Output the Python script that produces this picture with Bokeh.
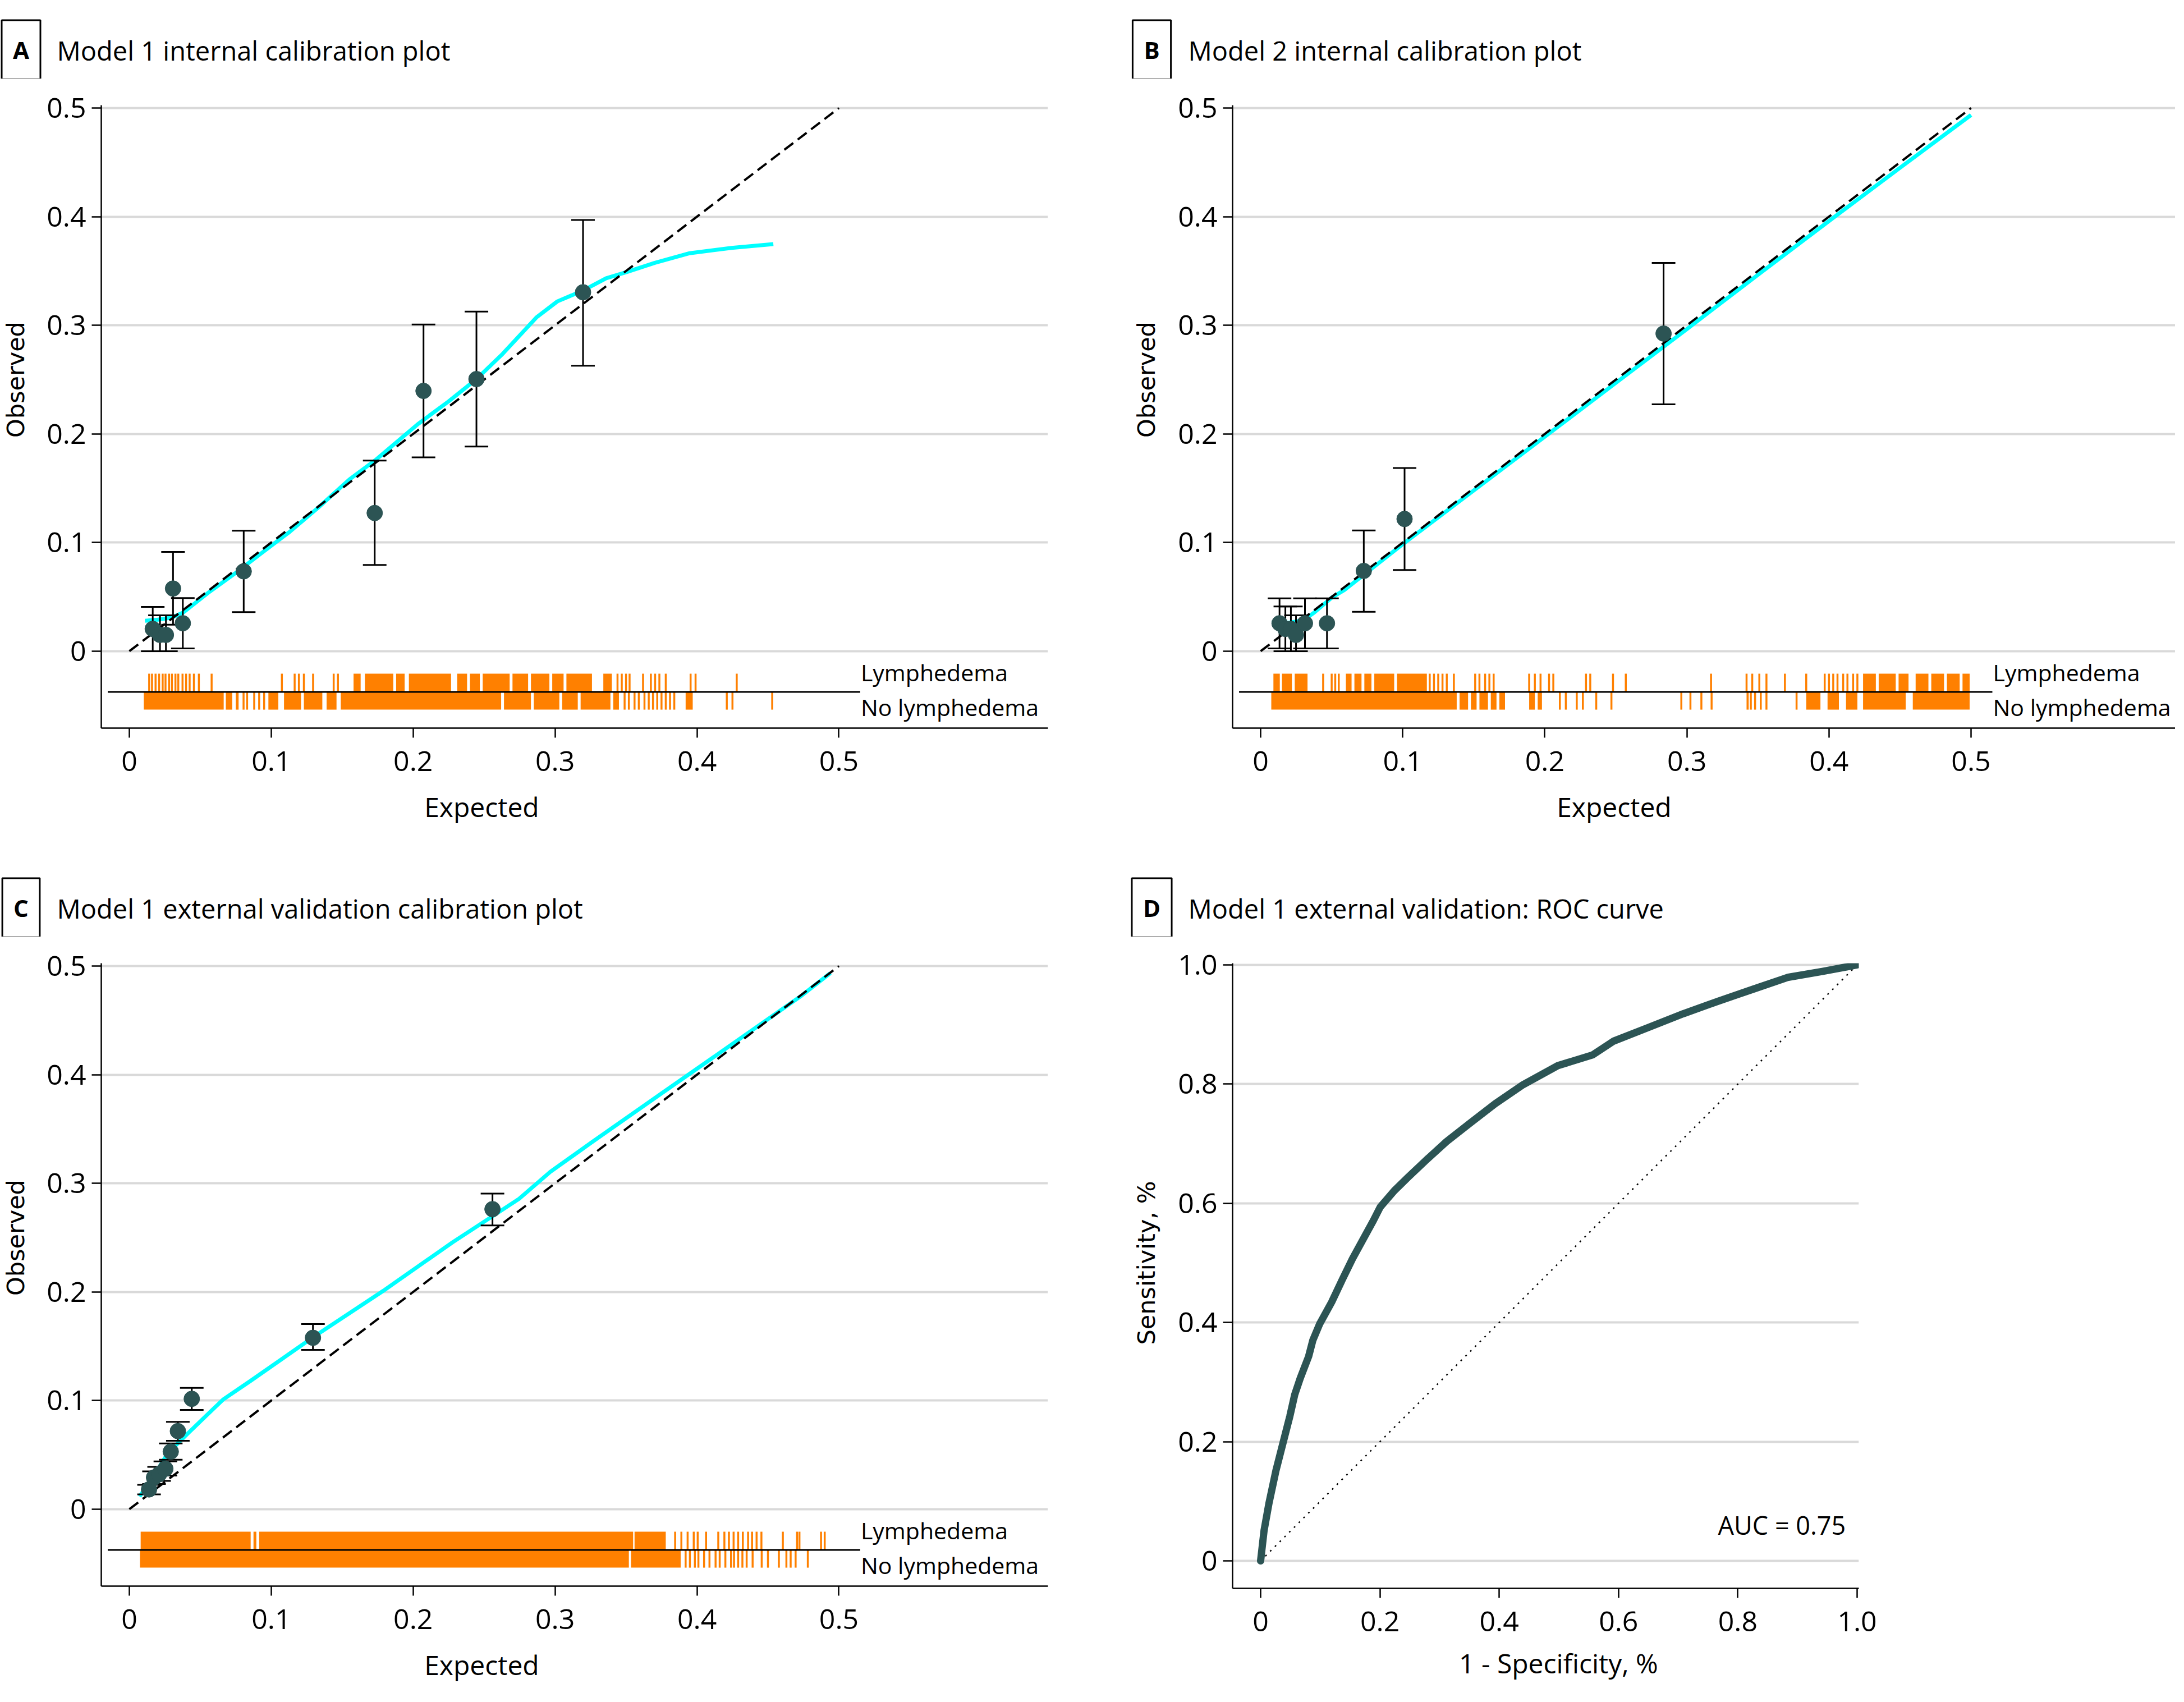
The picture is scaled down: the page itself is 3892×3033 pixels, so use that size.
from bokeh.plotting import figure
from bokeh.models import Range1d, FixedTicker, Label, Plot
from bokeh.layouts import row, column
from bokeh.embed import file_html
from bokeh.resources import INLINE

# ------------------------------------------------------------------ data
calib_ticks = [0, 0.1, 0.2, 0.3, 0.4, 0.5]
calib_tick_labels = ["0", "0.1", "0.2", "0.3", "0.4", "0.5"]
roc_ticks = [0, 0.2, 0.4, 0.6, 0.8, 1.0]
roc_tick_labels = ["0", "0.2", "0.4", "0.6", "0.8", "1.0"]
ref_line = [0, 0.5]
roc_ref = [0, 1.0]

# Panel A - Model 1 internal calibration
a_x = [0.0165, 0.0216, 0.0258, 0.0308, 0.0377, 0.0806, 0.1729, 0.2073, 0.2446, 0.3197]
a_y = [0.0205, 0.0150, 0.0150, 0.0577, 0.0257, 0.0735, 0.1272, 0.2396, 0.2505, 0.3304]
a_lo = [0.0, 0.0, 0.0, 0.0244, 0.0026, 0.0360, 0.0794, 0.1785, 0.1884, 0.2628]
a_hi = [0.0408, 0.0330, 0.0330, 0.0914, 0.0489, 0.1109, 0.1755, 0.3008, 0.3126, 0.3969]
a_curve_x = [0.011, 0.020, 0.030, 0.038, 0.0565, 0.0747, 0.0927, 0.1128, 0.133, 0.155, 0.174,
             0.2033, 0.2250, 0.2446, 0.2623, 0.2868, 0.3016, 0.3197, 0.336, 0.3507, 0.3703,
             0.3949, 0.4244, 0.4538]
a_curve_y = [0.028, 0.029, 0.031, 0.0356, 0.0547, 0.0718, 0.0899, 0.1097, 0.132, 0.158, 0.1765,
             0.2090, 0.2300, 0.2505, 0.2727, 0.3072, 0.3220, 0.3320, 0.3433, 0.3491, 0.3575,
             0.3664, 0.3713, 0.3748]
a_lym_ticks = [0.0140, 0.0160, 0.0185, 0.0210, 0.0235, 0.0255, 0.0280, 0.0300, 0.0325, 0.0345,
               0.0375, 0.0400, 0.0425, 0.0455, 0.0490, 0.0580, 0.1075, 0.1165, 0.1195, 0.1230,
               0.1295, 0.1440, 0.1470, 0.3440, 0.3470, 0.3500, 0.3525, 0.3620, 0.3675, 0.3705,
               0.3735, 0.3780, 0.3955, 0.3990, 0.4280]
a_lym_lo = [0.158, 0.166, 0.188, 0.197, 0.231, 0.240, 0.249, 0.270, 0.283, 0.298, 0.308, 0.334]
a_lym_hi = [0.163, 0.186, 0.194, 0.2267, 0.238, 0.247, 0.268, 0.281, 0.296, 0.306, 0.326, 0.340]
a_no_ticks = [0.0805, 0.0830, 0.0880, 0.0915, 0.0950, 0.3490, 0.3520, 0.3560, 0.3590, 0.3630,
              0.3660, 0.3690, 0.3720, 0.3750, 0.3780, 0.3810, 0.3840, 0.4210, 0.4250, 0.4530]
a_no_lo = [0.0102, 0.068, 0.075, 0.098, 0.109, 0.123, 0.139, 0.149, 0.264, 0.285, 0.305, 0.318, 0.341, 0.392]
a_no_hi = [0.0665, 0.0725, 0.077, 0.105, 0.121, 0.136, 0.146, 0.262, 0.283, 0.303, 0.316, 0.339, 0.345, 0.397]

# Panel B - Model 2 internal calibration
b_x = [0.0133, 0.0174, 0.0213, 0.0249, 0.0312, 0.0467, 0.0726, 0.1013, 0.2836]
b_y = [0.0257, 0.0205, 0.0205, 0.0150, 0.0257, 0.0257, 0.0739, 0.1217, 0.2924]
b_lo = [0.0026, 0.0, 0.0, 0.0, 0.0026, 0.0026, 0.0363, 0.0747, 0.2273]
b_hi = [0.0486, 0.0412, 0.0412, 0.0330, 0.0486, 0.0486, 0.1112, 0.1686, 0.3575]
b_curve_x = [0.0077, 0.0200, 0.0300, 0.0377, 0.0501, 0.0589, 0.1000, 0.1500, 0.2000, 0.2500,
             0.3000, 0.3500, 0.4000, 0.4500, 0.5000]
b_curve_y = [0.0262, 0.0262, 0.0285, 0.0356, 0.0494, 0.0563, 0.0985, 0.1480, 0.1975, 0.2470,
             0.2965, 0.3465, 0.3960, 0.4450, 0.4936]
b_lym_ticks = [0.0440, 0.0500, 0.0525, 0.0550, 0.1190, 0.1220, 0.1250, 0.1280, 0.1310, 0.1360,
               0.1510, 0.1540, 0.1580, 0.1610, 0.1640, 0.1890, 0.1930, 0.1970, 0.2030, 0.2060,
               0.2290, 0.2320, 0.2480, 0.2570, 0.3170, 0.3420, 0.3460, 0.3510, 0.3560, 0.3690,
               0.3840, 0.3970, 0.4000, 0.4030, 0.4060, 0.4100, 0.4130, 0.4170, 0.4200]
b_lym_lo = [0.009, 0.015, 0.024, 0.060, 0.066, 0.073, 0.080, 0.096, 0.424, 0.435, 0.449, 0.461, 0.472, 0.483, 0.494]
b_lym_hi = [0.0135, 0.022, 0.033, 0.064, 0.071, 0.078, 0.094, 0.117, 0.433, 0.447, 0.456, 0.470, 0.481, 0.492, 0.499]
b_no_ticks = [0.2106, 0.2148, 0.2225, 0.2268, 0.2362, 0.2469, 0.2961, 0.3025, 0.3102, 0.3174,
              0.3450, 0.3480, 0.3520, 0.3560, 0.3772]
b_no_lo = [0.0075, 0.140, 0.148, 0.154, 0.162, 0.168, 0.189, 0.195, 0.342, 0.384, 0.399, 0.412, 0.424, 0.459]
b_no_hi = [0.138, 0.146, 0.152, 0.160, 0.166, 0.172, 0.193, 0.198, 0.3435, 0.394, 0.407, 0.420, 0.454, 0.499]

# Panel C - Model 1 external validation calibration
c_x = [0.0139, 0.0174, 0.0210, 0.0254, 0.0292, 0.0342, 0.0440, 0.1294, 0.2559]
c_y = [0.0182, 0.0292, 0.0323, 0.0372, 0.0530, 0.0719, 0.1016, 0.1578, 0.2762]
c_lo = [0.0136, 0.0232, 0.0260, 0.0310, 0.0456, 0.0630, 0.0914, 0.1467, 0.2612]
c_hi = [0.0225, 0.0349, 0.0390, 0.0440, 0.0606, 0.0804, 0.1117, 0.1705, 0.2906]
c_curve_x = [0.0072, 0.0160, 0.0253, 0.0310, 0.0416, 0.0539, 0.0663, 0.0857, 0.1103, 0.1297,
             0.1788, 0.2279, 0.2559, 0.2746, 0.2967, 0.3261, 0.3752, 0.4244, 0.4735, 0.4940]
c_curve_y = [0.0117, 0.0280, 0.0477, 0.0565, 0.0702, 0.0857, 0.1012, 0.1184, 0.1408, 0.1585,
             0.2009, 0.2458, 0.2697, 0.2857, 0.3106, 0.3380, 0.3829, 0.4277, 0.4726, 0.4936]
c_lym_ticks = [0.3846, 0.3890, 0.3934, 0.3977, 0.4005, 0.4064, 0.4150, 0.4193, 0.4225, 0.4258,
               0.4290, 0.4323, 0.4360, 0.4388, 0.4420, 0.4454, 0.4605, 0.4705, 0.4722, 0.4874, 0.4900]
c_lym_lo = [0.008, 0.0875, 0.0915, 0.356]
c_lym_hi = [0.0855, 0.0895, 0.355, 0.378]
c_no_ticks = [0.3920, 0.3950, 0.3985, 0.4010, 0.4050, 0.4088, 0.4131, 0.4160, 0.4200, 0.4240,
              0.4261, 0.4290, 0.4320, 0.4350, 0.4392, 0.4456, 0.4500, 0.4577, 0.4630, 0.4660,
              0.4695, 0.4781]
c_no_lo = [0.0075, 0.3535]
c_no_hi = [0.352, 0.3885]

# Panel D - ROC curve
roc_fpr = [0, 0.0058, 0.014, 0.0257, 0.0373, 0.049, 0.0572, 0.0665, 0.0805, 0.0875, 0.0992,
           0.119, 0.1365, 0.154, 0.1715, 0.189, 0.2007, 0.224, 0.2474, 0.2765, 0.3116, 0.3524,
           0.3932, 0.44, 0.4982, 0.5566, 0.5916, 0.65, 0.7083, 0.7666, 0.825, 0.8833, 0.9416, 1.0]
roc_tpr = [0, 0.051, 0.0967, 0.1515, 0.197, 0.2427, 0.279, 0.3066, 0.343, 0.370, 0.398,
           0.434, 0.471, 0.507, 0.539, 0.571, 0.594, 0.621, 0.644, 0.6715, 0.7035, 0.7354,
           0.767, 0.799, 0.831, 0.849, 0.872, 0.895, 0.918, 0.939, 0.959, 0.979, 0.989, 1.0]
auc_text = "AUC = 0.75"

# ------------------------------------------------------------------ style
FONT = "Open Sans"
FONT_Y = "DejaVu Sans"
TEAL = "#2C5454"
CYAN = "#00FFFF"
ORANGE = "#FF8000"
GRID = "#D9D9D9"
FA = {"frame_align": False} if "frame_align" in Plot.properties() else {}

RUG_TOP, RUG_MID, RUG_BOT = -0.0207, -0.0375, -0.0538
HEADER_H = 140
YLAB_W = 80
MAIN_BT = 47
MAIN_BB = 90
LEFT_W = 2009
RIGHT_W = 1867


def blank_fig(width, height):
    """A figure whose frame is the whole canvas, used to hold text only."""
    h = figure(width=width, height=height, x_range=Range1d(0, width),
               y_range=Range1d(height, 0), output_backend="svg", toolbar_location=None,
               x_axis_type=None, y_axis_type=None, min_border_left=0, min_border_right=0,
               min_border_top=0, min_border_bottom=0, **FA)
    h.outline_line_color = None
    h.background_fill_color = "white"
    h.border_fill_color = "white"
    return h


def header_fig(width, letter, title, lx, tx, cy):
    h = blank_fig(width, HEADER_H)
    h.add_layout(Label(x=lx, y=cy, text=letter, text_font=FONT, text_font_size="42px",
                       text_font_style="bold", text_align="center", text_baseline="middle",
                       text_color="black", border_line_color="black", border_line_width=3,
                       background_fill_color="white", padding=(20, 24)))
    h.add_layout(Label(x=tx, y=cy + 1, text=title, text_font=FONT, text_font_size="47px",
                       text_align="left", text_baseline="middle", text_color="black"))
    return h


def ylab_fig(height, text, x, y):
    h = blank_fig(YLAB_W, height)
    h.add_layout(Label(x=x, y=y, text=text, text_font=FONT_Y, text_font_size="43px",
                       text_align="center", text_baseline="middle", angle=90,
                       angle_units="deg", text_color="black"))
    return h


def xlab_fig(width, height, text, x, y):
    h = blank_fig(width, height)
    h.add_layout(Label(x=x, y=y, text=text, text_font=FONT, text_font_size="48px",
                       text_align="center", text_baseline="middle", text_color="black"))
    return h


def base_fig(width, height, xr, yr, bl, br, ticks, tick_labels):
    p = figure(width=width, height=height, x_range=Range1d(*xr), y_range=Range1d(*yr),
               output_backend="svg", toolbar_location=None,
               min_border_left=bl, min_border_right=br, min_border_top=MAIN_BT,
               min_border_bottom=MAIN_BB, **FA)
    p.outline_line_color = None
    p.background_fill_color = "white"
    p.border_fill_color = "white"
    p.xgrid.visible = False
    p.ygrid.ticker = FixedTicker(ticks=ticks)
    p.ygrid.grid_line_color = GRID
    p.ygrid.grid_line_width = 4
    overrides = {t: l for t, l in zip(ticks, tick_labels)}
    for ax in (p.xaxis[0], p.yaxis[0]):
        ax.ticker = FixedTicker(ticks=ticks)
        ax.major_label_overrides = overrides
        ax.minor_tick_line_color = None
        ax.major_tick_in = 0
        ax.major_tick_out = 17
        ax.major_tick_line_width = 2.5
        ax.axis_line_width = 2.5
        ax.axis_line_color = "black"
        ax.major_tick_line_color = "black"
        ax.major_label_text_font = FONT
        ax.major_label_text_font_size = "50px"
        ax.major_label_text_color = "black"
    p.xaxis[0].major_label_standoff = 24
    p.yaxis[0].major_label_standoff = 10
    return p


def calib_panel(p, px, py, plo, phi, cx, cy, lym_ticks, lym_lo, lym_hi, no_ticks, no_lo, no_hi):
    # rug of predicted risks by outcome
    p.quad(left=lym_lo, right=lym_hi, bottom=RUG_MID, top=RUG_TOP, fill_color=ORANGE, line_color=None)
    p.segment(x0=lym_ticks, y0=RUG_MID, x1=lym_ticks, y1=RUG_TOP, line_color=ORANGE, line_width=3.5)
    p.quad(left=no_lo, right=no_hi, bottom=RUG_BOT, top=RUG_MID, fill_color=ORANGE, line_color=None)
    p.segment(x0=no_ticks, y0=RUG_BOT, x1=no_ticks, y1=RUG_MID, line_color=ORANGE, line_width=3.5)
    p.line(x=[-0.0152, 0.515], y=[RUG_MID, RUG_MID], line_color="black", line_width=3)
    for txt, yy in (("Lymphedema", -0.0192), ("No lymphedema", -0.0514)):
        p.add_layout(Label(x=0.5154, y=yy, text=txt, text_font=FONT, text_font_size="41px",
                           text_align="left", text_baseline="middle", text_color="black"))
    # smooth calibration curve and ideal line
    p.line(cx, cy, line_color=CYAN, line_width=7, line_join="round")
    p.line(ref_line, ref_line, line_color="black", line_width=4, line_dash="20 10")
    # grouped observed proportions with 95% CI
    p.segment(x0=px, y0=plo, x1=px, y1=phi, line_color="black", line_width=3)
    p.scatter(px, phi, marker="dash", size=42, line_color="black", line_width=3)
    p.scatter(px, plo, marker="dash", size=42, line_color="black", line_width=3)
    p.scatter(px, py, size=28, fill_color=TEAL, line_color=TEAL)


XR_A = (-0.01975, 0.6473)
XR_B = (-0.01975, -0.01975 + (RIGHT_W - 187) / 2532)
YR_CAL = (-0.0708, 0.5026)
CAL_MAIN_H = MAIN_BT + 1110 + MAIN_BB      # 1247
ROC_MAIN_H = MAIN_BT + 1114 + MAIN_BB      # 1251
OBS_Y = MAIN_BT + (0.5026 - 0.25) * 1936   # vertical centre of the 0-0.5 scale
SENS_Y = MAIN_BT + (1.0028 - 0.5) * 1062


def panel(width, height, letter, title, lx, tx, ylab_x, main, main_h, ylab, ylab_y, xlab, xlab_x, xlab_y):
    head = header_fig(width, letter, title, lx, tx, 88)
    yl = ylab_fig(main_h, ylab, ylab_x, ylab_y)
    xl = xlab_fig(width, height - HEADER_H - main_h, xlab, xlab_x, xlab_y)
    return column(head, row(yl, main), xl)


# ---------------- Panel A
pA = base_fig(LEFT_W - YLAB_W, CAL_MAIN_H, XR_A, YR_CAL, 178 - YLAB_W, 142,
              calib_ticks, calib_tick_labels)
calib_panel(pA, a_x, a_y, a_lo, a_hi, a_curve_x, a_curve_y, a_lym_ticks, a_lym_lo, a_lym_hi,
            a_no_ticks, a_no_lo, a_no_hi)
colA = panel(LEFT_W, 1529, "A", "Model 1 internal calibration plot", 37, 101, 27, pA, CAL_MAIN_H,
             "Observed", OBS_Y, "Expected", 178 + (0.2488 + 0.01975) * 2532, 50)

# ---------------- Panel B
pB = base_fig(RIGHT_W - YLAB_W, CAL_MAIN_H, XR_B, YR_CAL, 187 - YLAB_W, 0,
              calib_ticks, calib_tick_labels)
calib_panel(pB, b_x, b_y, b_lo, b_hi, b_curve_x, b_curve_y, b_lym_ticks, b_lym_lo, b_lym_hi,
            b_no_ticks, b_no_lo, b_no_hi)
colB = panel(RIGHT_W, 1529, "B", "Model 2 internal calibration plot", 43, 108, 33, pB, CAL_MAIN_H,
             "Observed", OBS_Y, "Expected", 187 + (0.2488 + 0.01975) * 2532, 50)

# ---------------- Panel C
pC = base_fig(LEFT_W - YLAB_W, CAL_MAIN_H, XR_A, YR_CAL, 178 - YLAB_W, 142,
              calib_ticks, calib_tick_labels)
calib_panel(pC, c_x, c_y, c_lo, c_hi, c_curve_x, c_curve_y, c_lym_ticks, c_lym_lo, c_lym_hi,
            c_no_ticks, c_no_lo, c_no_hi)
colC = panel(LEFT_W, 1486, "C", "Model 1 external validation calibration plot", 37, 101, 27, pC,
             CAL_MAIN_H, "Observed", OBS_Y, "Expected", 178 + (0.2488 + 0.01975) * 2532, 50)

# ---------------- Panel D
pD = base_fig(RIGHT_W - YLAB_W, ROC_MAIN_H, (-0.047, 1.0028), (-0.0461, 1.0028), 187 - YLAB_W,
              RIGHT_W - 187 - 1116, roc_ticks, roc_tick_labels)
pD.line(roc_ref, roc_ref, line_color="black", line_width=2.5, line_dash="3 9")
pD.line(roc_fpr, roc_tpr, line_color=TEAL, line_width=13, line_cap="round", line_join="round")
pD.add_layout(Label(x=0.981, y=0.0607, text=auc_text, text_font=FONT, text_font_size="45px",
                    text_align="right", text_baseline="middle", text_color="black"))
colD = panel(RIGHT_W, 1486, "D", "Model 1 external validation: ROC curve", 43, 108, 33, pD,
             ROC_MAIN_H, "Sensitivity, %", SENS_Y, "1 - Specificity, %",
             187 + (0.4995 + 0.047) * 1063, 43)

layout = column(row(colA, colB), row(colC, colD))

with open("out.html", "w") as f:
    f.write(file_html(layout, INLINE))
